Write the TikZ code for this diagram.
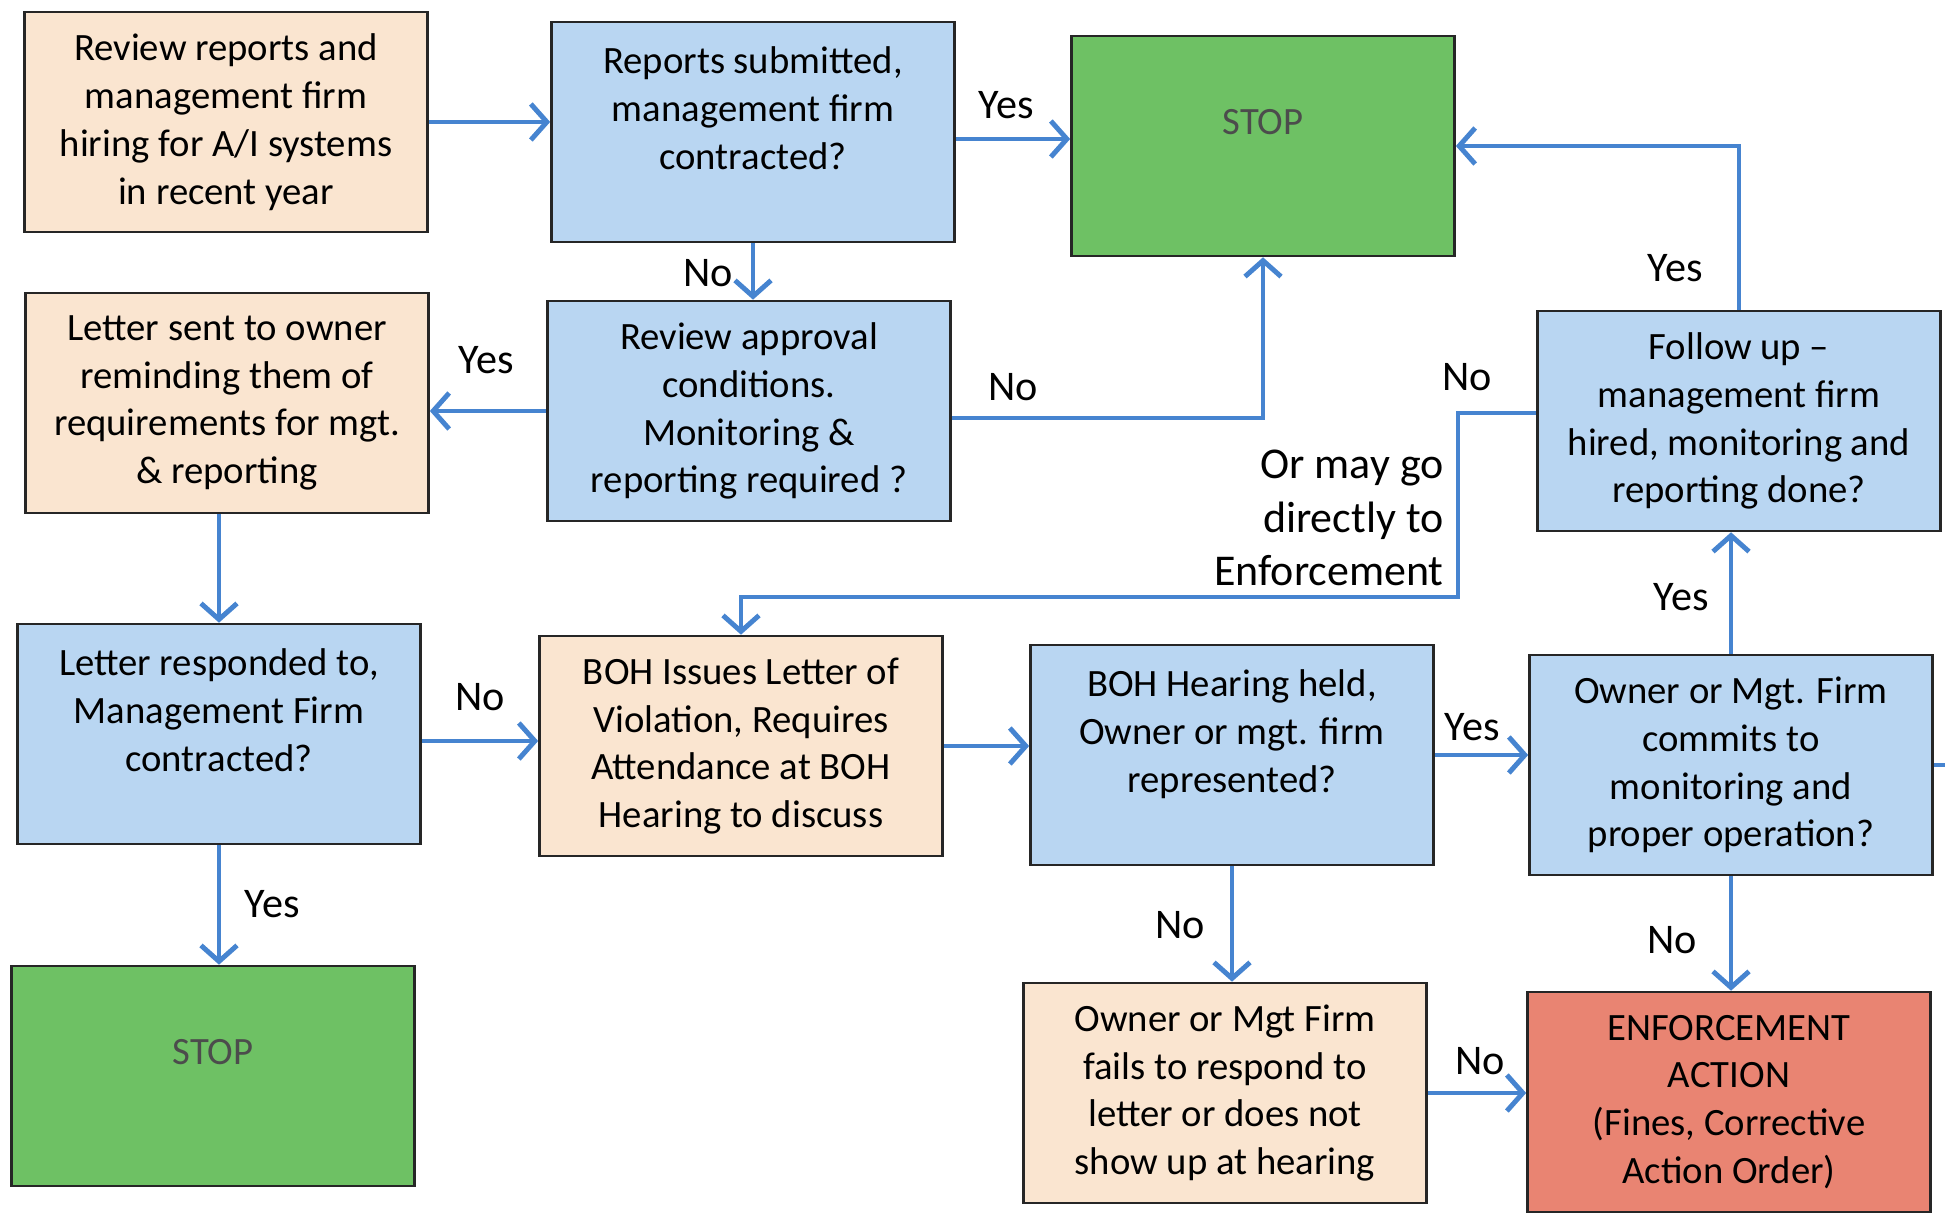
\documentclass[tikz,border=0pt]{standalone}
\usepackage{fontspec}
\setmainfont{Carlito}
\usetikzlibrary{arrows.meta}

\definecolor{peach}{RGB}{250,229,208}
\definecolor{qblue}{RGB}{185,214,242}
\definecolor{stopgreen}{RGB}{110,193,100}
\definecolor{enfred}{RGB}{233,132,114}
\definecolor{flowblue}{RGB}{70,132,208}

\begin{document}
\begin{tikzpicture}[x=0.01cm, y=-0.01cm,
    >={Straight Barb[length=1.6mm, width=3.6mm]},
    box/.style={draw=black!85, line width=0.7pt, minimum width=4.03cm,
        minimum height=2.2cm, align=center, inner sep=2pt,
        font=\fontsize{11}{13.6}\selectfont},
    action/.style={box, fill=peach},
    question/.style={box, fill=qblue},
    stopbox/.style={box, fill=stopgreen, text=black!70},
    enforce/.style={box, fill=enfred},
    flow/.style={->, draw=flowblue, line width=1.4pt},
    answer/.style={font=\fontsize{12}{14.6}\selectfont}]

    \useasboundingbox (0,0) rectangle (1945,1213);

    % Top row
    \node[action] (review) at (226,122) {Review reports and\\management firm\\hiring for A/I systems\\in recent year};
    \node[question] (submitted) at (753,132) {Reports submitted,\\management firm\\contracted?\\\mbox{}};
    \node[stopbox, minimum width=3.83cm] (stoptop) at (1263,146) {STOP\\\mbox{}};

    % Second row
    \node[action] (letter) at (227,403) {Letter sent to owner\\reminding them of\\requirements for mgt.\\\& reporting};
    \node[question] (approval) at (749,411) {Review approval\\conditions.\\Monitoring \&\\reporting required ?};
    \node[question] (followup) at (1739,421) {Follow up --\\management firm\\hired, monitoring and\\reporting done?};

    % Third row
    \node[question] (responded) at (219,734) {Letter responded to,\\Management Firm\\contracted?\\\mbox{}};
    \node[action] (violation) at (741,746) {BOH Issues Letter of\\Violation, Requires\\Attendance at BOH\\Hearing to discuss};
    \node[question] (hearing) at (1232,755) {BOH Hearing held,\\Owner or mgt. firm\\represented?\\\mbox{}};
    \node[question] (commits) at (1731,765) {Owner or Mgt. Firm\\commits to\\monitoring and\\proper operation?};

    % Bottom row
    \node[stopbox] (stopbot) at (213,1076) {STOP\\\mbox{}};
    \node[action] (fails) at (1225,1093) {Owner or Mgt Firm\\fails to respond to\\letter or does not\\show up at hearing};
    \node[enforce] (enforcement) at (1729,1102) {ENFORCEMENT\\ACTION\\(Fines, Corrective\\Action Order)};

    \coordinate (skip) at (1458,597);
    \coordinate (offpage) at (1945,765);

    \draw[flow] (review.east) -- (review.east -| submitted.west);
    \draw[flow] ([yshift=-0.07cm]submitted.east) -- ([yshift=-0.07cm]submitted.east -| stoptop.west);
    \draw[flow] (submitted.south) -- (submitted.south |- approval.north);
    \draw[flow] (approval.west) -- (approval.west -| letter.east);
    \draw[flow] ([yshift=-0.07cm]approval.east) -| (stoptop.south);
    \draw[flow] (followup.north) |- (stoptop.east);
    \draw[flow] ([yshift=0.08cm]followup.west) -| (skip) -| (violation.north);
    \draw[flow] (responded.north |- letter.south) -- (responded.north);
    \draw[flow] ([yshift=-0.07cm]responded.east) -- ([yshift=-0.07cm]responded.east -| violation.west);
    \draw[flow] (responded.south) -- (responded.south |- stopbot.north);
    \draw[flow] (violation.east) -- (violation.east -| hearing.west);
    \draw[flow] (hearing.east) -- (hearing.east -| commits.west);
    \draw[flow] (hearing.south) -- (hearing.south |- fails.north);
    \draw[flow] (commits.north) -- (commits.north |- followup.south);
    \draw[flow] (commits.south) -- (commits.south |- enforcement.north);
    \draw[flow] (fails.east) -- (fails.east -| enforcement.west);
    \draw[flow, -] (commits.east) -- (offpage);

    % Yes / No labels
    \node[answer] (yes1) at (1006,105) {Yes};
    \node[answer] (no1) at (708,273) {No};
    \node[answer] (yes2) at (486,360) {Yes};
    \node[answer] (no2) at (1013,387) {No};
    \node[answer] (yes3) at (1675,268) {Yes};
    \node[answer] (no3) at (1467,377) {No};
    \node[answer, anchor=east, align=right, font=\fontsize{12.5}{15.3}\selectfont] (direct) at (1456,518) {Or may go\\directly to\\Enforcement};
    \node[answer] (no4) at (480,697) {No};
    \node[answer] (yes4) at (272,904) {Yes};
    \node[answer] (yes5) at (1472,727) {Yes};
    \node[answer] (no5) at (1180,925) {No};
    \node[answer] (yes6) at (1681,597) {Yes};
    \node[answer] (no6) at (1672,940) {No};
    \node[answer] (no7) at (1480,1061) {No};
\end{tikzpicture}
\end{document}
